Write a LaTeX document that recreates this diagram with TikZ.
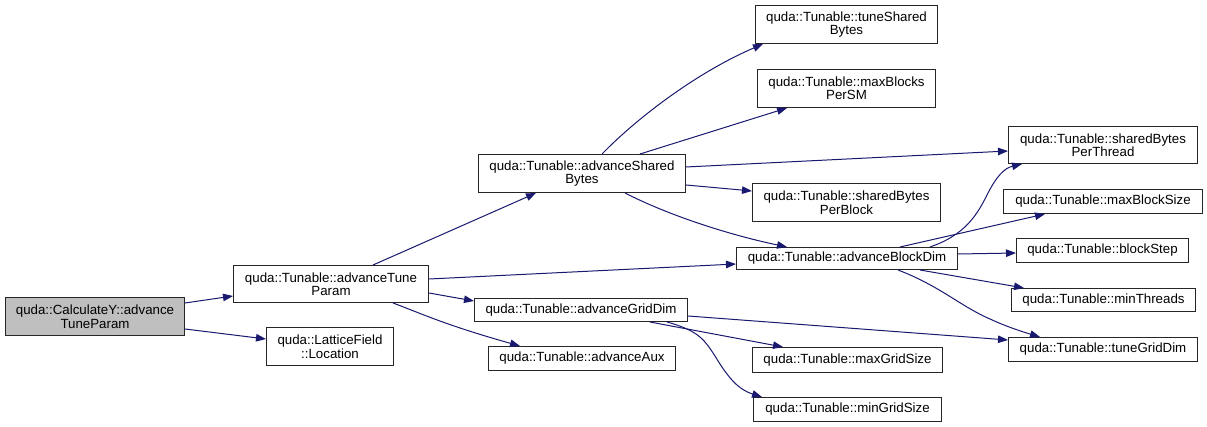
\documentclass[tikz,border=0pt]{standalone}
\usepackage{fontspec}
\setmainfont{Liberation Sans}
\usetikzlibrary{arrows.meta}
\definecolor{edgeblue}{HTML}{191970}
\definecolor{nodegray}{HTML}{BFBFBF}
\tikzset{
  fn/.style={draw=black!85, line width=1pt, fill=white, anchor=north west, inner sep=0pt,
    align=center, font=\fontsize{13.3}{13.5}\selectfont},
  call/.style={draw=edgeblue, line width=1pt, -{Triangle[length=10pt,width=7.5pt]}},
}
\begin{document}
\begin{tikzpicture}[x=1pt,y=-1pt]
\useasboundingbox (0,0) rectangle (1207,427);
\fill[white] (0,0) rectangle (1207,427);
% nodes
\node[fn, fill=nodegray, minimum width=179pt, minimum height=38pt] (cy) at (5,297) {quda::CalculateY::advance\\TuneParam};
\node[fn, minimum width=195pt, minimum height=37pt] (tp) at (233,265) {quda::Tunable::advanceTune\\Param};
\node[fn, minimum width=127pt, minimum height=38pt] (loc) at (266,327) {quda::LatticeField\\::Location};
\node[fn, minimum width=207pt, minimum height=38pt] (sb) at (478,154) {quda::Tunable::advanceShared\\Bytes};
\node[fn, minimum width=213pt, minimum height=23pt] (gd) at (474,298) {quda::Tunable::advanceGridDim};
\node[fn, minimum width=187pt, minimum height=24pt] (aux) at (488,346) {quda::Tunable::advanceAux};
\node[fn, minimum width=221pt, minimum height=22pt] (bd) at (736,247) {quda::Tunable::advanceBlockDim};
\node[fn, minimum width=182pt, minimum height=38pt] (tsb) at (755,5) {quda::Tunable::tuneShared\\Bytes};
\node[fn, minimum width=178pt, minimum height=38pt] (mbs) at (757,69) {quda::Tunable::maxBlocks\\PerSM};
\node[fn, minimum width=189pt, minimum height=37pt] (sbpt) at (1008,126) {quda::Tunable::sharedBytes\\PerThread};
\node[fn, minimum width=188pt, minimum height=38pt] (sbpb) at (752,183) {quda::Tunable::sharedBytes\\PerBlock};
\node[fn, minimum width=199pt, minimum height=24pt] (mbsz) at (1003,189) {quda::Tunable::maxBlockSize};
\node[fn, minimum width=172pt, minimum height=24pt] (bs) at (1016,238) {quda::Tunable::blockStep};
\node[fn, minimum width=184pt, minimum height=23pt] (mt) at (1011,288) {quda::Tunable::minThreads};
\node[fn, minimum width=189pt, minimum height=24pt] (tgd) at (1008,337) {quda::Tunable::tuneGridDim};
\node[fn, minimum width=190pt, minimum height=25pt] (mgs) at (752,347) {quda::Tunable::maxGridSize};
\node[fn, minimum width=188pt, minimum height=24pt] (mngs) at (753,397) {quda::Tunable::minGridSize};
% edges
\draw[call] ([shift={(0,6)}]cy.north east) -- ([shift={(0,31)}]tp.north west);
\draw[call] ([shift={(0,32)}]cy.north east) -- ([shift={(0,12)}]loc.north west);
\draw[call] ([shift={(140,0)}]tp.north west) -- ([shift={(58,0)}]sb.south west);
\draw[call] ([shift={(0,14)}]tp.north east) -- ([shift={(0,17)}]bd.north west);
\draw[call] ([shift={(0,28)}]tp.north east) -- ([shift={(0,3)}]gd.north west);
\draw[call] ([shift={(160,0)}]tp.south west) .. controls +(27,10) and +(-75,-21) .. ([shift={(32,0)}]aux.north west);
\draw[call] ([shift={(124,0)}]sb.north west) .. controls +(38,-39) and +(-63,27) .. ([shift={(8,0)}]tsb.south west);
\draw[call] ([shift={(162,0)}]sb.north west) -- ([shift={(30,0)}]mbs.south west);
\draw[call] ([shift={(0,13)}]sb.north east) -- ([shift={(0,25)}]sbpt.north west);
\draw[call] ([shift={(0,31)}]sb.north east) -- ([shift={(0,8)}]sbpb.north west);
\draw[call] ([shift={(147,0)}]sb.south west) .. controls +(45,23) and +(-57,-12) .. ([shift={(51,0)}]bd.north west);
\draw[call] ([shift={(194,0)}]bd.north west) .. controls +(35,-12) and +(-10,20) .. ++(57,-52) .. controls +(10,-20) and +(-17,4) .. ([shift={(14,0)}]sbpt.south west);
\draw[call] ([shift={(164,0)}]bd.north west) -- ([shift={(42,0)}]mbsz.south west);
\draw[call] ([shift={(0,7)}]bd.north east) -- ([shift={(0,15)}]bs.north west);
\draw[call] ([shift={(184,0)}]bd.south west) -- ([shift={(13,0)}]mt.north west);
\draw[call] ([shift={(162,0)}]bd.south west) .. controls +(42,16) and +(-30,-13) .. ++(92,49) .. controls +(15,7) and +(-20,-6) .. ([shift={(32,0)}]tgd.north west);
\draw[call] ([shift={(0,18)}]gd.north east) -- ([shift={(0,3)}]tgd.north west);
\draw[call] ([shift={(176,0)}]gd.south west) -- ([shift={(31,0)}]mgs.north west);
\draw[call] ([shift={(193,0)}]gd.south west) .. controls +(33,9) and +(-10,-15) .. ++(48,34) .. controls +(15,25) and +(-22,-7) .. ([shift={(9,0)}]mngs.north west);
\end{tikzpicture}
\end{document}
